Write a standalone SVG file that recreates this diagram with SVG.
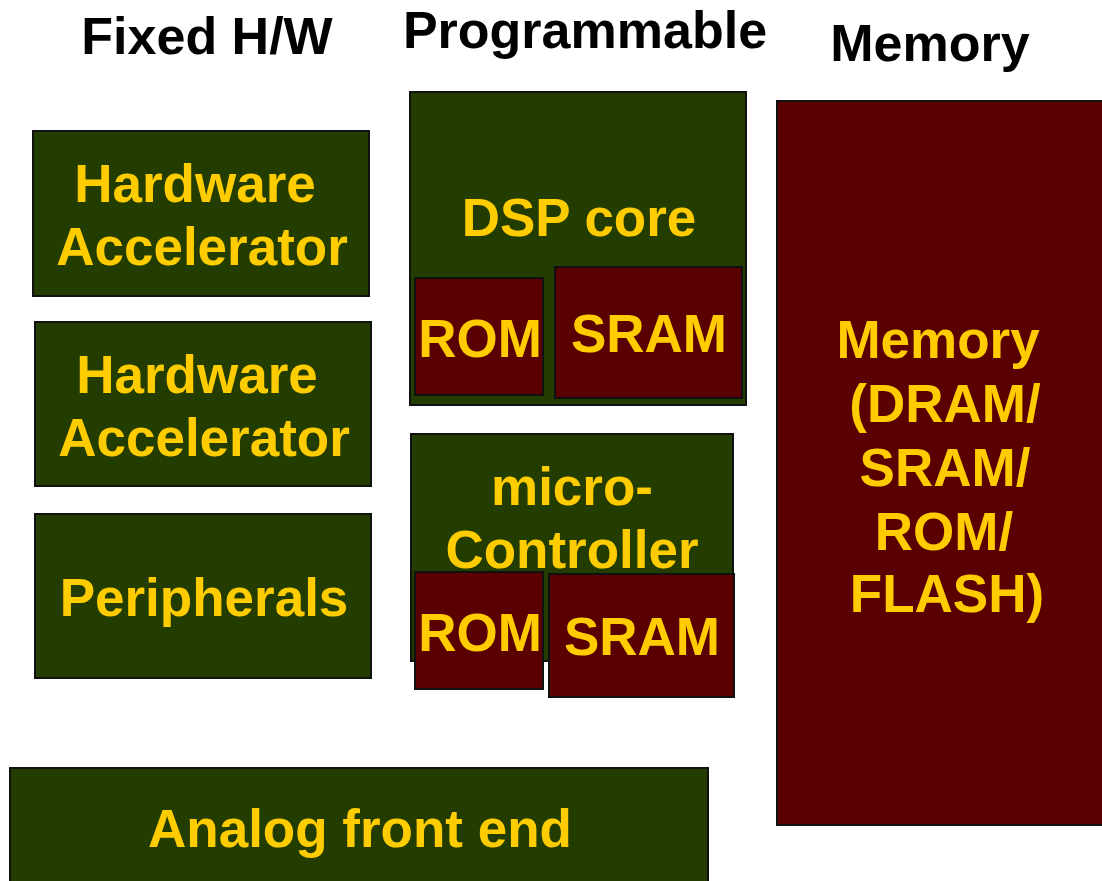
<svg xmlns="http://www.w3.org/2000/svg" width="1102" height="881" viewBox="0 0 1102 881">
  <style>
    .logic { fill: #233D00; stroke: #111; stroke-width: 2; }
    .mem { fill: #5A0000; stroke: #111; stroke-width: 2; }
    .lbl { font-family: "Liberation Sans", Arial, sans-serif; font-weight: bold; font-size: 53px; fill: #FFCC00; text-anchor: middle; }
    .hdr { font-family: "Liberation Sans", Arial, sans-serif; font-weight: bold; font-size: 52px; fill: #000; text-anchor: middle; }
  </style>
  <rect width="1102" height="881" fill="#fff"/>

  <!-- column headings -->
  <g id="headings">
    <text class="hdr" x="207" y="54">Fixed H/W</text>
    <text class="hdr" x="585" y="48">Programmable</text>
    <text class="hdr" x="930" y="61">Memory</text>
  </g>

  <!-- fixed hardware column -->
  <g id="hw-accel-1">
    <rect class="logic" x="33" y="131" width="336" height="165"/>
    <text class="lbl" x="195" y="202">Hardware</text>
    <text class="lbl" x="202" y="265">Accelerator</text>
  </g>
  <g id="hw-accel-2">
    <rect class="logic" x="35" y="322" width="336" height="164"/>
    <text class="lbl" x="197" y="393">Hardware</text>
    <text class="lbl" x="204" y="456">Accelerator</text>
  </g>
  <g id="peripherals">
    <rect class="logic" x="35" y="514" width="336" height="164"/>
    <text class="lbl" x="204" y="616">Peripherals</text>
  </g>

  <!-- programmable column -->
  <g id="dsp-core">
    <rect class="logic" x="410" y="92" width="336" height="313"/>
    <text class="lbl" x="579" y="236">DSP core</text>
  </g>
  <g id="dsp-rom">
    <rect class="mem" x="415" y="278" width="128" height="117"/>
    <text class="lbl" x="480" y="357">ROM</text>
  </g>
  <g id="dsp-sram">
    <rect class="mem" x="555" y="267" width="187" height="131"/>
    <text class="lbl" x="649" y="352">SRAM</text>
  </g>

  <g id="micro-controller">
    <rect class="logic" x="411" y="434" width="322" height="227"/>
    <text class="lbl" x="572" y="505">micro-</text>
    <text class="lbl" x="572" y="568">Controller</text>
  </g>
  <g id="uc-rom">
    <rect class="mem" x="415" y="572" width="128" height="117"/>
    <text class="lbl" x="480" y="651">ROM</text>
  </g>
  <g id="uc-sram">
    <rect class="mem" x="549" y="574" width="185" height="123"/>
    <text class="lbl" x="642" y="655">SRAM</text>
  </g>

  <!-- memory column -->
  <g id="memory">
    <rect class="mem" x="777" y="101" width="340" height="724"/>
    <text class="lbl" x="938" y="358">Memory</text>
    <text class="lbl" x="945" y="422">(DRAM/</text>
    <text class="lbl" x="945" y="486">SRAM/</text>
    <text class="lbl" x="944" y="550">ROM/</text>
    <text class="lbl" x="947" y="612">FLASH)</text>
  </g>

  <!-- analog front end -->
  <g id="analog-front-end">
    <rect class="logic" x="10" y="768" width="698" height="130"/>
    <text class="lbl" x="360" y="847">Analog front end</text>
  </g>

  <g id="connectors"></g>
</svg>
